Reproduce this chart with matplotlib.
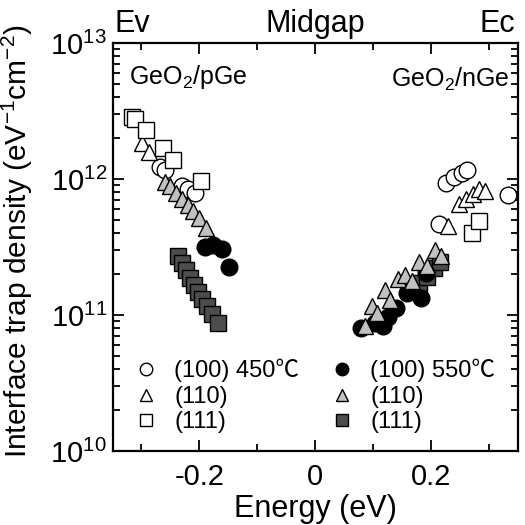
import matplotlib
matplotlib.use("Agg")
import matplotlib.pyplot as plt
from matplotlib.ticker import LogLocator, NullFormatter, MultipleLocator, FixedLocator

plt.rcParams['font.family'] = ['Liberation Sans', 'Noto Sans CJK JP', 'DejaVu Sans']
plt.rcParams['mathtext.fontset'] = 'custom'
plt.rcParams['mathtext.rm'] = 'Liberation Sans'

# ---- data (energy in eV, Dit in eV^-1 cm^-2) ----
# 450C open symbols
c450_E = [-0.2675, -0.2589, -0.2297, -0.2194, -0.2074, 0.2136, 0.2256, 0.2393, 0.2531, 0.2617, 0.3321]
c450_D = [1.22e12, 1.16e12, 8.9e11, 8.4e11, 7.9e11, 4.67e11, 9.35e11, 1.04e12, 1.11e12, 1.16e12, 7.6e11]
t450_E = [-0.2998, -0.2864, 0.229, 0.248, 0.260, 0.272, 0.282, 0.293]
t450_D = [1.84e12, 1.58e12, 4.51e11, 6.55e11, 7.1e11, 7.8e11, 8.4e11, 8.2e11]
s450_E = [-0.3156, -0.312, -0.2916, -0.2624, -0.2452, -0.197, 0.2703, 0.2823]
s450_D = [2.86e12, 2.76e12, 2.29e12, 1.69e12, 1.38e12, 9.7e11, 4.0e11, 4.9e11]
# 550C filled symbols
c550_E = [-0.190, -0.1765, -0.161, -0.149, 0.0796, 0.1036, 0.1173, 0.1259, 0.1397, 0.1586, 0.1827, 0.1913]
c550_D = [3.16e11, 3.27e11, 3.06e11, 2.25e11, 8.0e10, 8.7e10, 8.3e10, 9.7e10, 1.12e11, 1.45e11, 1.33e11, 2.04e11]
t550_E = [-0.259, -0.2503, -0.240, -0.2297, -0.2194, -0.2108, -0.2005, -0.1885,
          0.0864, 0.0986, 0.1069, 0.1208, 0.1294, 0.1431, 0.1552, 0.1672, 0.1792, 0.193, 0.2067, 0.217]
t550_D = [9.5e11, 8.9e11, 7.9e11, 7.1e11, 6.4e11, 5.8e11, 5.2e11, 4.4e11,
          8.3e10, 1.16e11, 1.03e11, 1.53e11, 1.29e11, 1.84e11, 1.97e11, 1.78e11, 2.45e11, 2.29e11, 3.0e11, 2.72e11]
s550_E = [-0.2366, -0.2297, -0.2229, -0.2160, -0.2091, -0.2023, -0.1954, -0.1868, -0.1782, -0.1679,
          0.1655, 0.179, 0.193, 0.205, 0.2153]
s550_D = [2.72e11, 2.41e11, 2.14e11, 1.87e11, 1.66e11, 1.48e11, 1.31e11, 1.16e11, 1.02e11, 8.7e10,
          1.53e11, 1.72e11, 1.90e11, 2.22e11, 2.46e11]

labels_450 = ['(100) 450℃', '(110)', '(111)']
labels_550 = ['(100) 550℃', '(110)', '(111)']
xticks = [-0.2, 0, 0.2]
xticklabels = ['-0.2', '0', '0.2']
band_labels = ['Ev', 'Midgap', 'Ec']

fig = plt.figure(figsize=(5.25, 5.25), dpi=100)
ax = fig.add_axes([0.2143, 0.141, 0.7724, 0.777])
ax.set_yscale('log')
ax.set_xlim(-0.35, 0.35)
ax.set_ylim(1e10, 1e13)

ms = 12
msq = 11
kw = dict(linestyle='none', markeredgecolor='black', markeredgewidth=1.0)
h_s550, = ax.plot(s550_E, s550_D, marker='s', markersize=msq, markerfacecolor='#4d4d4d', label=labels_550[2], zorder=3, **kw)
h_c550, = ax.plot(c550_E, c550_D, marker='o', markersize=ms, markerfacecolor='black', label=labels_550[0], zorder=4, **kw)
h_c450, = ax.plot(c450_E, c450_D, marker='o', markersize=ms, markerfacecolor='white', label=labels_450[0], zorder=5, **kw)
h_t550, = ax.plot(t550_E, t550_D, marker='^', markersize=ms, markerfacecolor='#c0c0c0', label=labels_550[1], zorder=6, **kw)
h_t450, = ax.plot(t450_E, t450_D, marker='^', markersize=ms, markerfacecolor='white', label=labels_450[1], zorder=7, **kw)
h_s450, = ax.plot(s450_E, s450_D, marker='s', markersize=msq, markerfacecolor='white', label=labels_450[2], zorder=8, **kw)

leg = ax.legend(handles=[h_c450, h_t450, h_s450, h_c550, h_t550, h_s550],
                ncol=2, loc='lower left', bbox_to_anchor=(0.03, 0.02), frameon=False,
                fontsize=17, markerscale=0.75, handlelength=1.0, handletextpad=0.7,
                columnspacing=1.3, labelspacing=0.15, borderaxespad=0.0)

ax.xaxis.set_major_locator(FixedLocator(xticks))
ax.set_xticklabels(xticklabels)
ax.xaxis.set_minor_locator(MultipleLocator(0.1))
ax.yaxis.set_major_locator(LogLocator(base=10, numticks=10))
ax.yaxis.set_minor_locator(LogLocator(base=10, subs=range(2, 10), numticks=20))
ax.yaxis.set_minor_formatter(NullFormatter())

ax.tick_params(which='both', direction='in', top=True, right=True, width=1.3, labelsize=21)
ax.tick_params(which='major', length=8)
ax.tick_params(which='minor', length=5)
ax.tick_params(axis='x', pad=9)
ax.tick_params(axis='y', pad=4)
for sp in ax.spines.values():
    sp.set_linewidth(1.6)

ax.set_xlabel('Energy (eV)', fontsize=22, labelpad=2)
ax.set_ylabel('Interface trap density (eV$^{-1}$cm$^{-2}$)', fontsize=21.5, labelpad=0)
ax.yaxis.set_label_coords(-0.19, 0.515)

ax.text(0.04, 0.95, 'GeO$_2$/pGe', transform=ax.transAxes, fontsize=18, va='top', ha='left')
ax.text(0.98, 0.945, 'GeO$_2$/nGe', transform=ax.transAxes, fontsize=18, va='top', ha='right')

for xe, lab in zip([-0.315, 0.0, 0.315], band_labels):
    ax.annotate(lab, xy=(xe, 1.0), xycoords=('data', 'axes fraction'), xytext=(0, 3),
                textcoords='offset points', ha='center', va='bottom', fontsize=22)

fig.savefig('out.png', dpi=100)
